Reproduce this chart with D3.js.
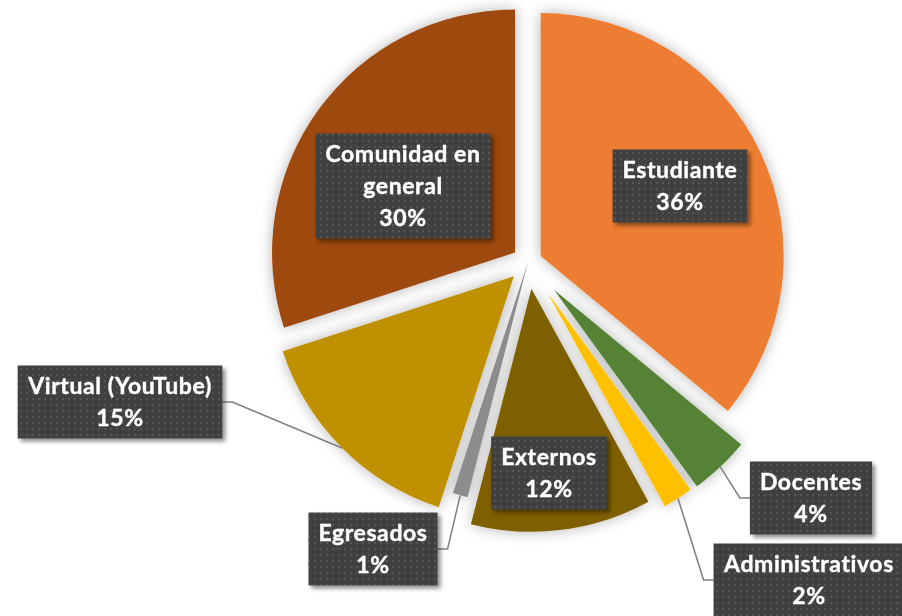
<!DOCTYPE html>
<html>
<head>
<meta charset="utf-8">
<script src="https://cdn.jsdelivr.net/npm/d3@7"></script>
<style>
  html, body { margin: 0; padding: 0; background: #ffffff; }
  #chart { width: 902px; height: 616px; }
</style>
</head>
<body>
<div id="chart"></div>
<script>
// Chart data
const categories = ["Estudiante", "Docentes", "Administrativos", "Externos", "Egresados", "Virtual (YouTube)", "Comunidad en general"];
const percentages = [36, 4, 2, 12, 1, 15, 30];

// Slice colours (Excel palette)
const sliceColors = ["#ED7D31", "#548235", "#FFC000", "#7F6000", "#8C8C8C", "#BF9000", "#9E480E"];

// Layout: how far each slice is pulled out, and where each label box sits
const explode = [14, 38, 37, 27, 0, 20, 16];
const labelCenters = [[680, 186], [811, 498], [809, 580], [549, 473], [373, 549], [120, 402], [403, 186]];
const leaderLabels = ["Docentes", "Administrativos", "Egresados", "Virtual (YouTube)"];
const wrapLines = { "Comunidad en general": ["Comunidad en", "general"] };

const width = 902, height = 616;
const cx = 528, cy = 262, radius = 243;
const lineHeight = 32;

const svg = d3.select("#chart").append("svg")
  .attr("width", width)
  .attr("height", height);

const defs = svg.append("defs");

// soft glow under the pie
const glow = defs.append("filter").attr("id", "glow")
  .attr("x", "-20%").attr("y", "-20%").attr("width", "140%").attr("height", "140%");
glow.append("feGaussianBlur").attr("in", "SourceAlpha").attr("stdDeviation", 7).attr("result", "blur");
glow.append("feFlood").attr("flood-color", "#000").attr("flood-opacity", 0.3);
glow.append("feComposite").attr("in2", "blur").attr("operator", "in").attr("result", "shadow");
const gm = glow.append("feMerge");
gm.append("feMergeNode").attr("in", "shadow");
gm.append("feMergeNode").attr("in", "SourceGraphic");

// label box shadow
const boxShadow = defs.append("filter").attr("id", "boxShadow")
  .attr("x", "-10%").attr("y", "-10%").attr("width", "130%").attr("height", "140%");
boxShadow.append("feDropShadow")
  .attr("dx", 3).attr("dy", 3).attr("stdDeviation", 2)
  .attr("flood-color", "#000").attr("flood-opacity", 0.45);

// dotted fill of the label boxes
const pattern = defs.append("pattern").attr("id", "dots")
  .attr("patternUnits", "userSpaceOnUse").attr("width", 6).attr("height", 6);
pattern.append("rect").attr("width", 6).attr("height", 6).attr("fill", "#404040");
pattern.append("rect").attr("x", 2).attr("y", 2).attr("width", 2).attr("height", 2).attr("fill", "#545454");

const pie = d3.pie().sort(null).value(d => d.value);
const arcs = pie(categories.map((c, i) => ({ name: c, value: percentages[i], i })));

const arc = d3.arc().innerRadius(0).outerRadius(radius);

function offsetOf(d) {
  const a = (d.startAngle + d.endAngle) / 2;
  const k = explode[d.data.i];
  return [Math.sin(a) * k, -Math.cos(a) * k];
}

const pieG = svg.append("g")
  .attr("transform", `translate(${cx},${cy})`)
  .attr("filter", "url(#glow)");

pieG.selectAll("path")
  .data(arcs)
  .join("path")
  .attr("transform", d => `translate(${offsetOf(d)})`)
  .attr("fill", d => sliceColors[d.data.i])
  .attr("d", arc);

// leader lines
const leaderG = svg.append("g")
  .attr("fill", "none")
  .attr("stroke", "#7F7F7F")
  .attr("stroke-width", 1.5);

// labels
const labelG = svg.append("g")
  .style("font", "bold 23px Lato, 'Open Sans', sans-serif")
  .style("letter-spacing", "0.6px")
  .style("font-variant-ligatures", "none")
  .attr("fill", "#ffffff")
  .attr("stroke", "#ffffff")
  .attr("stroke-width", 0.4)
  .attr("text-anchor", "middle");

arcs.forEach(d => {
  const i = d.data.i;
  const [lx, ly] = labelCenters[i];
  const lines = (wrapLines[d.data.name] || [d.data.name]).concat([`${d.data.value}%`]);

  const g = labelG.append("g");
  const rect = g.append("rect").attr("fill", "url(#dots)").attr("stroke", "none").attr("filter", "url(#boxShadow)");
  const text = g.append("text");
  lines.forEach((t, j) => {
    text.append("tspan")
      .attr("x", lx)
      .attr("y", ly + (j - (lines.length - 1) / 2) * lineHeight + 8)
      .text(t);
  });
  const bb = text.node().getBBox();
  const bw = bb.width + 20;
  const bh = lines.length * lineHeight + 9;
  rect.attr("x", lx - bw / 2).attr("y", ly - bh / 2).attr("width", bw).attr("height", bh);

  if (leaderLabels.includes(d.data.name)) {
    const a = (d.startAngle + d.endAngle) / 2;
    const [ox, oy] = offsetOf(d);
    const px = cx + ox + Math.sin(a) * radius;
    const py = cy + oy - Math.cos(a) * radius;
    const edgeX = px < lx ? lx - bw / 2 : lx + bw / 2;
    const elbowX = px < lx ? edgeX - 10 : edgeX + 10;
    leaderG.append("path")
      .attr("d", d3.line()([[px, py], [elbowX, ly], [edgeX, ly]]));
  }
});
</script>
</body>
</html>
